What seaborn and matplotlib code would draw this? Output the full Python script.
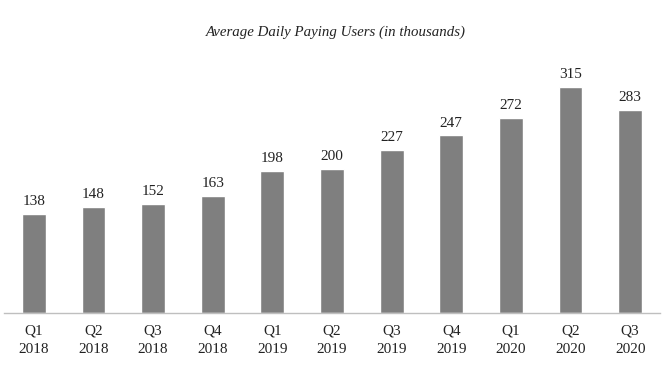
import matplotlib
matplotlib.use('Agg')
import matplotlib.pyplot as plt
import seaborn as sbn
import pandas as pd

QUARTERS = ['Q1\n2018', 'Q2\n2018', 'Q3\n2018', 'Q4\n2018',
            'Q1\n2019', 'Q2\n2019', 'Q3\n2019', 'Q4\n2019',
            'Q1\n2020', 'Q2\n2020', 'Q3\n2020']
USERS = [138, 148, 152, 163, 198, 200, 227, 247, 272, 315, 283]
TITLE = 'Average Daily Paying Users (in thousands)'

sbn.set_style('white')
plt.rcParams['font.family'] = ['Liberation Serif', 'DejaVu Serif']

df = pd.DataFrame({'quarter': QUARTERS, 'users': USERS})

fig = plt.figure(figsize=(6.71, 3.69), dpi=100)
ax = fig.add_axes([4 / 671, 56 / 369, 656 / 671, 253 / 369])

sbn.barplot(x='quarter', y='users', data=df, ax=ax, color='#7f7f7f',
            saturation=1, width=0.4)
ax.set_xlim(-0.5, len(QUARTERS) - 0.5)
ax.set_ylim(0, 352)

for rect, val in zip(ax.patches, USERS):
    ax.text(rect.get_x() + rect.get_width() / 2, rect.get_height() + 8, str(val),
            ha='center', va='bottom', fontsize=11, color='#222222')

for s in ['top', 'right', 'left']:
    ax.spines[s].set_visible(False)
ax.spines['bottom'].set_color('#bfbfbf')
ax.spines['bottom'].set_linewidth(1)
ax.set_yticks([])
ax.set_xlabel('')
ax.set_ylabel('')
ax.tick_params(axis='x', length=0, pad=8, labelsize=11, colors='#222222')
for lbl in ax.get_xticklabels():
    lbl.set_linespacing(1.55)

fig.text(0.5, 1 - 32 / 369, TITLE, ha='center', va='center', fontsize=10.7,
         style='italic', color='#222222')

fig.savefig('out.png', dpi=100)
